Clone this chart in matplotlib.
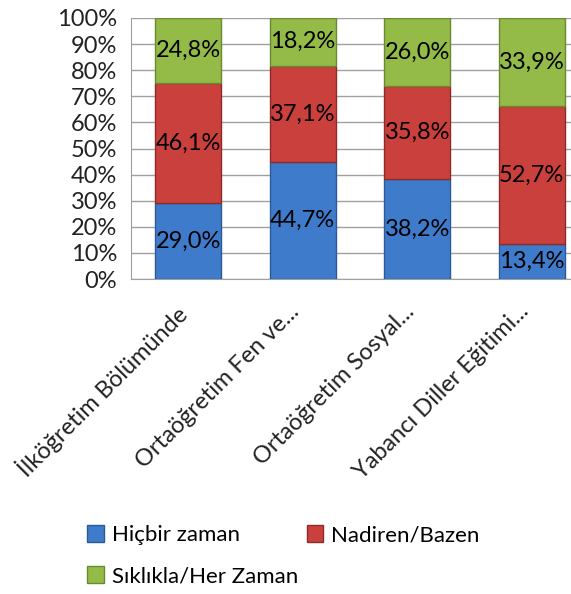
import numpy as np
import matplotlib.pyplot as plt
from matplotlib.transforms import ScaledTranslation

# kategoriler ve yüzdeler
bolumler = ['İlköğretim Bölümünde', 'Ortaöğretim Fen ve...',
            'Ortaöğretim Sosyal...', 'Yabancı Diller Eğitimi...']
hicbir = [29.0, 44.7, 38.2, 13.4]
nadiren = [46.1, 37.1, 35.8, 52.7]
siklikla = [24.8, 18.2, 26.0, 33.9]
seriler = ['Hiçbir zaman', 'Nadiren/Bazen', 'Sıklıkla/Her Zaman']
renkler = ['#3F7BCB', '#C9403D', '#94BA48']
kenar = ['#2C5A96', '#8E2B29', '#6A8A30']

plt.rcParams['font.family'] = ['Lato', 'DejaVu Sans']

fig = plt.figure(figsize=(5.71, 5.94), dpi=100)
# çizim alanı sağda resmin dışına taşıyor
ax = fig.add_axes([131 / 571, 1 - 279 / 594, 458 / 571, 261 / 594])

x = np.arange(len(bolumler))
w = 0.58
alt = np.zeros(len(bolumler))
cubuklar = []
for degerler, ad, renk, kr in zip([hicbir, nadiren, siklikla], seriler, renkler, kenar):
    degerler = np.array(degerler)
    c = ax.bar(x, degerler, w, bottom=alt, color=renk, edgecolor=kr, linewidth=1,
               label=ad, zorder=3)
    cubuklar.append(c)
    for xi, b, d in zip(x, alt, degerler):
        ax.text(xi, b + d / 2, f'{d:.1f}%'.replace('.', ','), ha='center',
                va='center', fontsize=17, color='black', zorder=4)
    alt += degerler

ax.set_xlim(-0.5, 3.5)
ax.set_ylim(0, 100)
ax.set_yticks(np.arange(0, 101, 10))
ax.set_yticklabels([f'{v}%' for v in range(0, 101, 10)], fontsize=17, color='#222222')
ax.yaxis.grid(True, color='#A0A0A0', linewidth=1, zorder=0)
ax.tick_params(axis='y', length=0, pad=10)
ax.tick_params(axis='x', length=0, pad=2)
ax.set_xticks(x)
ax.set_xticklabels(bolumler, rotation=45, ha='right', va='top',
                   rotation_mode='anchor', fontsize=17, color='#222222')
# etiketleri biraz sola-aşağı kaydır
kaydir = ScaledTranslation(-0.14, -0.19, fig.dpi_scale_trans)
for lbl in ax.get_xticklabels():
    lbl.set_transform(lbl.get_transform() + kaydir)
for s in ['top', 'right']:
    ax.spines[s].set_visible(False)
for s in ['left', 'bottom']:
    ax.spines[s].set_color('#A0A0A0')

# lejant: satır satır doldurulsun diye sıra değişti
fig.legend([cubuklar[0], cubuklar[2], cubuklar[1]],
           [seriler[0], seriler[2], seriler[1]],
           loc='upper left', bbox_to_anchor=(76 / 571, 1 - 514 / 594), ncol=2,
           frameon=False, fontsize=16, handlelength=0.75, handleheight=0.75,
           handletextpad=0.35, columnspacing=0.4, labelspacing=0.95, borderpad=0)

fig.savefig('out.png', dpi=100)
